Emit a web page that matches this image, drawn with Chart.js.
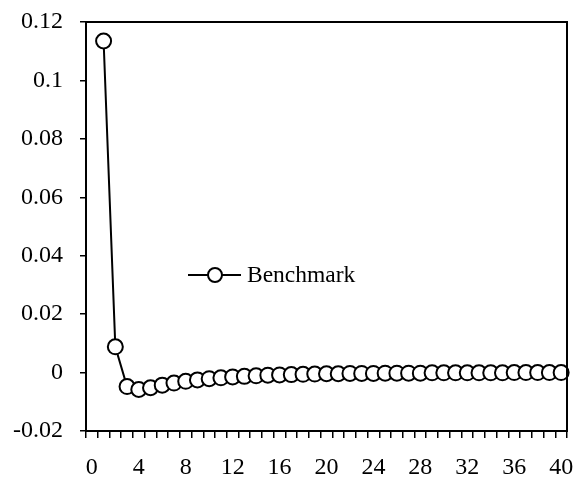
<!DOCTYPE html>
<html lang="en">
<head>
  <meta charset="UTF-8" />
  <title>Benchmark response</title>
  <script src="https://cdn.jsdelivr.net/npm/chart.js"></script>
  <style>
    body { margin: 0; background: #fff; }
    #wrap { width: 582px; height: 482px; }
  </style>
</head>
<body>
  <div id="wrap"><canvas id="chart"></canvas></div>
  <script>
    // horizon 0..40 (point 0 left empty)
    const periods = Array.from({ length: 41 }, (_, i) => String(i));
    const benchmark = [
      null, 0.1135, 0.0088, -0.0048, -0.0058, -0.0052, -0.0043, -0.0036, -0.0030, -0.0025,
      -0.0021, -0.0018, -0.0015, -0.0013, -0.0011, -0.0009, -0.0008, -0.0007, -0.0006, -0.0005,
      -0.0004, -0.0004, -0.0003, -0.0003, -0.0003, -0.0002, -0.0002, -0.0002, -0.0002, -0.0001,
      -0.0001, -0.0001, -0.0001, -0.0001, -0.0001, -0.0001, 0.0, 0.0, 0.0, 0.0, 0.0
    ];
    const seriesName = 'Benchmark';
    const yTicks = [-0.02, 0, 0.02, 0.04, 0.06, 0.08, 0.1, 0.12];

    const serif = 'Liberation Serif, Times New Roman, serif';

    // frame around plot + legend inside the plot
    const framePlugin = {
      id: 'frame',
      afterDatasetsDraw(chart) {
        const { ctx, chartArea: a } = chart;
        ctx.save();
        ctx.strokeStyle = '#000';
        ctx.lineWidth = 2;
        ctx.strokeRect(a.left, a.top, a.right - a.left, a.bottom - a.top);
        // legend
        const lx = a.left + 102, ly = a.top + 253;
        ctx.beginPath();
        ctx.moveTo(lx, ly);
        ctx.lineTo(lx + 53, ly);
        ctx.stroke();
        ctx.beginPath();
        ctx.arc(lx + 27, ly, 7, 0, Math.PI * 2);
        ctx.fillStyle = '#fff';
        ctx.fill();
        ctx.stroke();
        ctx.fillStyle = '#000';
        ctx.font = '23.5px ' + serif;
        ctx.textBaseline = 'middle';
        ctx.fillText(seriesName, lx + 59, ly + 1);
        ctx.restore();
      }
    };

    new Chart(document.getElementById('chart'), {
      type: 'line',
      data: {
        labels: periods,
        datasets: [{
          label: seriesName,
          data: benchmark,
          borderColor: '#000',
          borderWidth: 2,
          pointRadius: 7.5,
          pointBorderWidth: 2,
          pointBackgroundColor: '#fff',
          pointBorderColor: '#000',
          tension: 0,
          clip: false
        }]
      },
      options: {
        responsive: true,
        maintainAspectRatio: false,
        animation: false,
        layout: { padding: { top: 22, right: 15, left: 0, bottom: 0 } },
        plugins: { legend: { display: false }, tooltip: { enabled: false } },
        scales: {
          x: {
            type: 'category',
            offset: true,
            afterFit: s => { s.height = 51; s.paddingLeft = 0; s.paddingRight = 0; },
            border: { display: true, color: '#000', width: 2 },
            grid: { offset: true, drawOnChartArea: false, drawTicks: true, tickLength: 7, color: '#000', lineWidth: 1.5 },
            ticks: {
              autoSkip: false, maxRotation: 0, color: '#000', padding: 15,
              font: { family: serif, size: 24 },
              callback: (v, i) => (i % 4 === 0 ? periods[i] : '')
            }
          },
          y: {
            min: -0.02,
            max: 0.12,
            afterFit: s => { s.width = 86; s.paddingTop = 0; s.paddingBottom = 0; },
            afterBuildTicks: s => { s.ticks = yTicks.map(v => ({ value: v })); },
            border: { display: true, color: '#000', width: 2 },
            grid: { drawOnChartArea: false, drawTicks: true, tickLength: 6, color: '#000', lineWidth: 1.5 },
            ticks: {
              color: '#000', padding: 17,
              font: { family: serif, size: 24 },
              callback: v => String(parseFloat(v.toFixed(2)))
            }
          }
        }
      },
      plugins: [framePlugin]
    });
  </script>
</body>
</html>
